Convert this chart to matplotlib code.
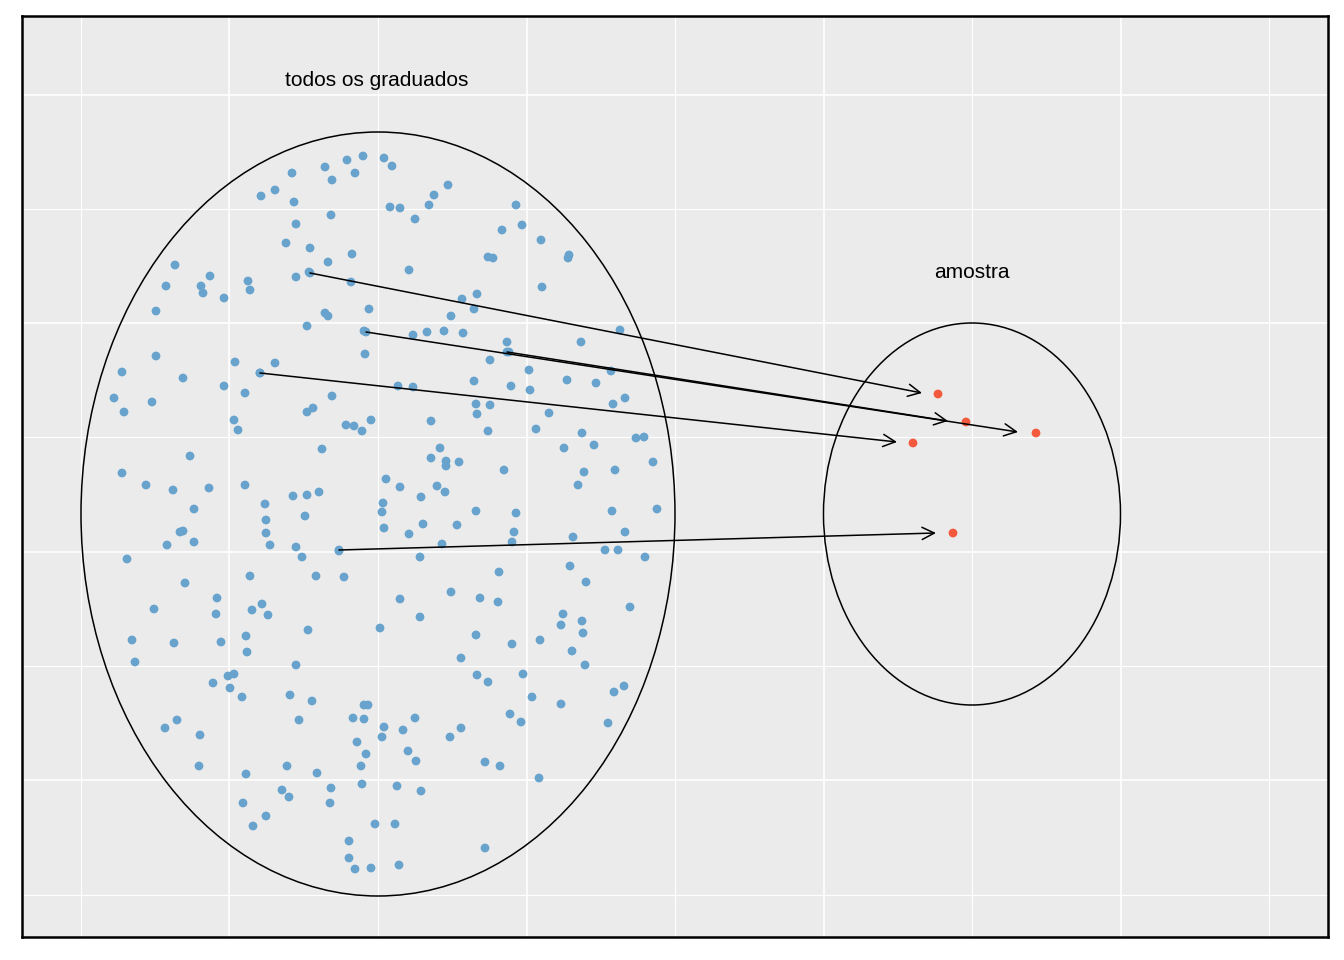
import matplotlib
matplotlib.use("Agg")
import matplotlib.pyplot as plt
from matplotlib.patches import Ellipse

# coordinates (pixel-like units, y grows downward)
pop_x = [363,347,384,392,325,355,332,292,275,261,294,448,434,429,390,400,415,331,296,516,522,502,541,286,310,352,488,493,569,568,
         175,210,248,250,201,203,224,166,296,328,309,409,351,462,477,474,451,542,156,325,328,307,369,364,413,427,444,463,507,509,
         581,620,156,235,275,260,183,122,365,490,529,567,596,611,114,124,152,224,245,398,413,511,530,474,332,313,307,371,346,354,
         362,234,238,476,490,477,431,549,625,613,536,488,582,564,594,636,644,322,440,431,446,446,459,190,122,653,615,584,578,504,
         386,400,437,421,445,146,173,209,245,293,307,319,194,265,266,305,266,270,296,302,383,382,384,409,423,457,476,516,514,512,
         573,612,625,657,442,605,618,645,183,180,194,167,127,420,339,344,316,499,570,586,250,185,217,216,154,252,262,268,400,420,
         451,480,498,630,563,582,561,583,308,380,476,512,540,221,246,247,174,132,135,296,461,572,585,477,488,523,234,228,213,230,
         242,290,312,624,614,532,561,364,368,353,364,415,384,403,461,450,510,521,608,165,177,299,200,382,366,357,408,416,361,199,
         246,287,317,485,500,539,362,397,331,282,289,330,243,421,266,253,375,395,349,349,355,371,399,485,310,366,260,339,507]
pop_y = [156,160,158,166,167,173,180,173,190,196,202,185,195,205,207,208,219,215,224,205,225,230,240,243,248,254,257,258,255,258,
         265,276,281,290,286,293,298,286,277,262,272,270,282,299,294,309,316,287,311,313,316,326,309,331,335,332,331,333,342,352,
         342,330,356,362,363,373,378,372,354,360,370,380,383,371,398,412,402,386,393,386,387,386,390,381,396,408,412,420,425,426,
         431,420,430,404,405,414,421,413,398,404,429,431,433,448,445,438,437,449,448,458,461,466,462,456,473,462,470,472,485,470,
         479,487,486,497,492,485,490,488,485,496,495,492,509,504,520,516,533,545,547,557,503,512,528,534,524,525,511,513,532,542,
         537,511,532,509,544,550,550,557,531,532,542,545,559,557,551,577,576,572,566,582,576,583,598,614,609,610,604,615,599,617,
         592,598,602,607,614,621,625,633,630,628,635,644,640,642,636,652,643,640,662,665,658,651,665,675,682,674,674,676,683,688,
         697,695,701,686,692,697,704,705,705,718,719,718,727,730,728,737,714,722,723,728,720,720,735,737,754,742,751,761,766,766,
         774,766,773,762,766,778,784,786,788,790,797,803,803,791,816,826,824,824,841,858,869,868,865,848,273,332,373,550,352]

samp_x = [938, 1036, 966, 913, 953]
samp_y = [394, 433, 422, 443, 533]
arrow_from_x = [310, 366, 507, 260, 339]
arrow_from_y = [273, 332, 352, 373, 550]
arrow_to_x = [922, 1018, 948, 897, 936]
arrow_to_y = [393, 432, 421, 442, 533]

fig = plt.figure(figsize=(13.44, 9.6), dpi=100)
ax = fig.add_axes([22/1344, 23/960, 1306/1344, 921/960])
ax.set_facecolor("#EBEBEB")
ax.set_xlim(22, 1328)
ax.set_ylim(937, 16)
for gx in [81, 229, 378, 527, 675, 824, 972, 1121, 1269]:
    ax.axvline(gx, color="white", lw=1.2 if gx in (229, 527, 824, 1121) else 0.8, zorder=0)
for gy in [95, 209, 323, 437, 552, 666, 780, 895]:
    ax.axhline(gy, color="white", lw=1.2 if gy in (95, 323, 552, 780) else 0.8, zorder=0)
ax.set_xticks([])
ax.set_yticks([])
for s in ax.spines.values():
    s.set_linewidth(1.8)

ax.add_patch(Ellipse((378, 514), 594, 764, fill=False, ec="black", lw=1.1))
ax.add_patch(Ellipse((972, 514), 297, 382, fill=False, ec="black", lw=1.1))

ax.scatter(pop_x, pop_y, s=40, color="#67A3CD", edgecolors="none", zorder=3)
ax.scatter(samp_x, samp_y, s=40, color="#F4593E", edgecolors="none", zorder=3)

for x0, y0, x1, y1 in zip(arrow_from_x, arrow_from_y, arrow_to_x, arrow_to_y):
    ax.annotate("", xy=(x1, y1), xytext=(x0, y0),
                arrowprops=dict(arrowstyle="->", color="black", lw=1.1,
                                mutation_scale=22, shrinkA=0, shrinkB=0), zorder=4)

ax.text(377, 81, "todos os graduados", ha="center", va="center", fontsize=15, family="Liberation Sans")
ax.text(972, 272, "amostra", ha="center", va="center", fontsize=15, family="Liberation Sans")

fig.savefig("out.png", dpi=100)
